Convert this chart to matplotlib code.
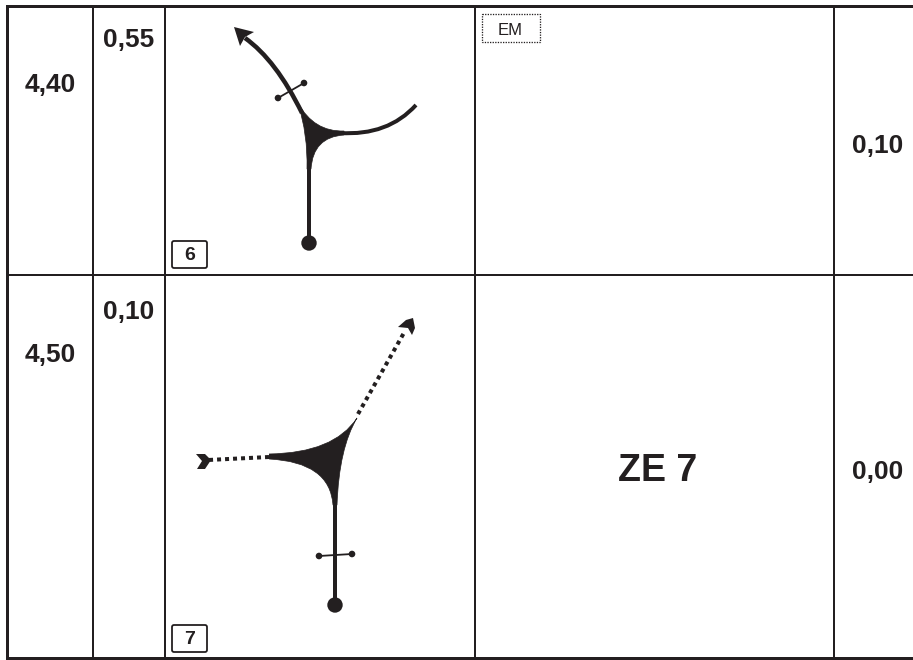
import matplotlib
matplotlib.use('Agg')
import matplotlib.pyplot as plt
from matplotlib.path import Path
from matplotlib.patches import PathPatch, Circle, FancyBboxPatch, Rectangle, Polygon

INK = '#231f20'
NARROW = ['Liberation Sans Narrow', 'Liberation Sans']

# table
col_x = [7, 93, 165, 475, 834]
row_y = [5.5, 275, 658]
left_vals = ['4,40', '4,50']
left_y = [85, 355]
second_vals = ['0,55', '0,10']
second_y = [40, 312]
right_vals = ['0,10', '0,00']
right_y = [146, 472]
box_labels = ['6', '7']
box_tops = [240, 624]

# diagram 6
stem6 = [(309, 160), (309, 243)]
left6 = [(302, 113), (276, 60), (245, 38)]
right6 = [(416, 105), (388, 136), (340, 133)]
cross6 = [(278, 98), (304, 83)]
head6 = [(234, 27), (254, 32), (245, 37), (240, 46)]
web6 = [(298, 103), (314, 132), (344, 131), (344, 135), (313, 137), (311, 169), (307, 169), (308, 135), (298, 103)]

# diagram 7
stem7 = [(335, 500), (335, 605)]
cross7 = [(319, 556), (352, 554)]
dots_up = [(358, 414), (405, 331)]
dots_left = [(269, 457), (208, 460)]
web7 = [(269, 454), (334, 453), (357, 418), (357, 418), (339, 448), (337, 505), (333, 505), (330, 462), (269, 459)]
chevron_up = [(398, 327), (406, 320), (413, 318), (415, 328), (412, 335), (408, 328)]
chevron_left = [(196, 454), (205, 454), (211, 460), (205, 469), (197, 469), (202, 461)]
dot_r = 7.7
small_r = 3.3

fig = plt.figure(figsize=(9.13, 6.6), dpi=100)
ax = fig.add_axes([0, 0, 1, 1])
ax.set_xlim(0, 913)
ax.set_ylim(660, 0)
ax.axis('off')


def px(w):
    return w * 0.72


# grid lines
ax.plot([col_x[0], 913], [row_y[0], row_y[0]], color=INK, lw=px(3))
ax.plot([col_x[0], 913], [row_y[1], row_y[1]], color=INK, lw=px(2))
ax.plot([col_x[0], 913], [row_y[2], row_y[2]], color=INK, lw=px(3))
for i, x in enumerate(col_x):
    ax.plot([x, x], [row_y[0], row_y[2]], color=INK, lw=px(3 if i == 0 else 2), solid_capstyle='butt')

# numbers
for vals, x, ys in [(left_vals, 50, left_y), (second_vals, 129, second_y), (right_vals, 878, right_y)]:
    for v, y in zip(vals, ys):
        ax.text(x, y, v, family=NARROW, fontweight='bold', fontsize=19, color=INK, ha='center', va='center')

ax.text(658, 471, 'ZE 7', family='Liberation Sans', fontweight='bold', fontsize=27, color=INK, ha='center', va='center')

# EM box
ax.add_patch(Rectangle((482, 14), 58, 28, fill=False, ec=INK, lw=px(1.3), ls=(0, (1, 1))))
ax.text(510.5, 30.5, 'EM', family='Liberation Sans', fontsize=12, color=INK, ha='center', va='center')

# numbered boxes
for lab, top in zip(box_labels, box_tops):
    ax.add_patch(FancyBboxPatch((172, top + 1), 35, 27, boxstyle='round,pad=0,rounding_size=2', fill=False, ec=INK, lw=px(1.8)))
    ax.text(189.5, top + 15, lab, family=NARROW, fontweight='bold', fontsize=14, color=INK, ha='center', va='center')


def curve(pts):
    codes = [Path.MOVETO, Path.CURVE3, Path.CURVE3]
    return Path(pts, codes)


def web(pts):
    # three concave edges, each a quadratic
    codes = [Path.MOVETO, Path.CURVE3, Path.CURVE3, Path.LINETO, Path.CURVE3, Path.CURVE3, Path.LINETO, Path.CURVE3, Path.CURVE3]
    return Path(pts, codes)


# diagram 6
ax.plot(*zip(*stem6), color=INK, lw=px(4), solid_capstyle='butt')
ax.add_patch(PathPatch(curve(left6), fill=False, ec=INK, lw=px(4.5), capstyle='butt'))
ax.add_patch(PathPatch(curve(right6), fill=False, ec=INK, lw=px(4), capstyle='butt'))
ax.plot(*zip(*cross6), color=INK, lw=px(1.8))
for c in cross6:
    ax.add_patch(Circle(c, small_r, color=INK, lw=0))
ax.add_patch(Polygon(head6, color=INK, lw=0))
ax.add_patch(PathPatch(web(web6), fc=INK, ec=INK, lw=0.5))
ax.add_patch(Circle(stem6[1], dot_r, color=INK, lw=0, zorder=3))

# diagram 7
ax.plot(*zip(*stem7), color=INK, lw=px(4), solid_capstyle='butt')
ax.plot(*zip(*cross7), color=INK, lw=px(1.8))
for c in cross7:
    ax.add_patch(Circle(c, small_r, color=INK, lw=0))
ax.add_patch(PathPatch(web(web7), fc=INK, ec=INK, lw=0.5))
ax.add_patch(Circle(stem7[1], dot_r, color=INK, lw=0, zorder=3))
ax.plot(*zip(*dots_up), color=INK, lw=px(4), ls=(0, (1, 1)), dash_capstyle='butt')
ax.plot(*zip(*dots_left), color=INK, lw=px(4), ls=(0, (1, 1)), dash_capstyle='butt')
ax.add_patch(Polygon(chevron_up, color=INK, lw=0))
ax.add_patch(Polygon(chevron_left, color=INK, lw=0))

fig.savefig('out.png', dpi=100)
